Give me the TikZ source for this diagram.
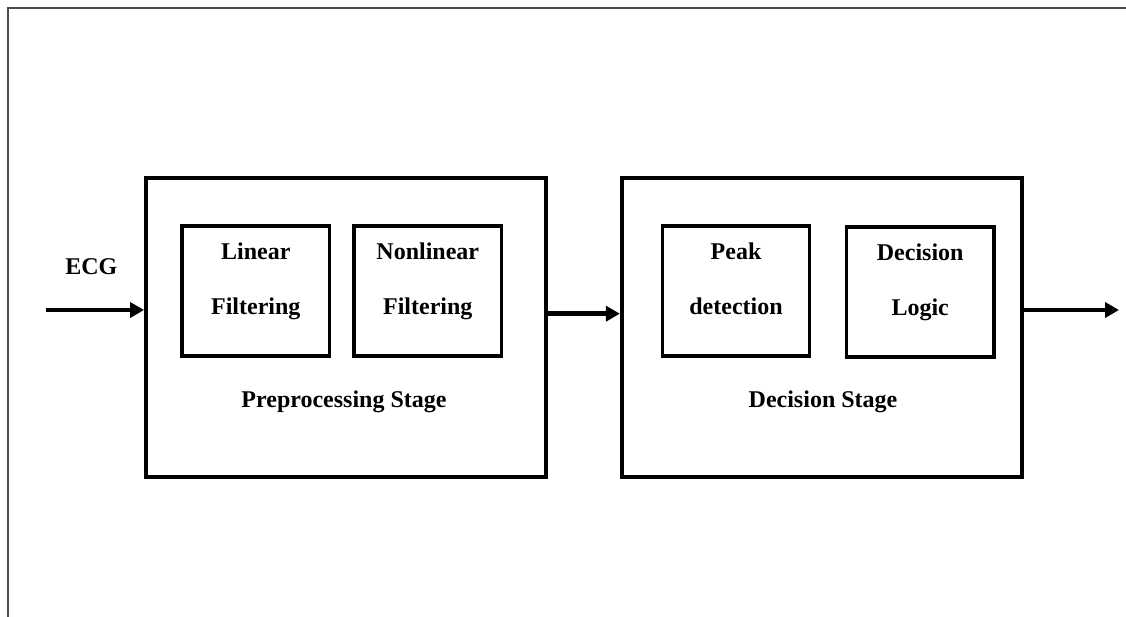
\documentclass[tikz,border=0pt]{standalone}
\usepackage{fontspec}
\setmainfont{Liberation Serif}
\usetikzlibrary{arrows.meta}
\tikzset{
  frame/.style={draw=black!70, line width=2.4pt},
  stage/.style={draw, line width=3.8pt, minimum width=400pt, minimum height=299pt, inner sep=0pt},
  block/.style={draw, line width=3.4pt, minimum width=147.5pt, minimum height=130pt, inner sep=0pt,
    align=center, text height=48pt, text depth=0pt},
  lbl/.style={anchor=base, inner sep=0pt},
  arr/.style={line width=4.4pt, -{Triangle[length=14pt,width=15pt]}}
}
\begin{document}
\begin{tikzpicture}[x=1pt,y=-1pt, font=\fontsize{24}{55}\selectfont\bfseries]
\useasboundingbox (0,0) rectangle (1126,617);
\draw[frame] (7.8,617) -- (7.8,7.8) -- (1126,7.8);
\path node[stage] (pre) at (346,327.7) {}
node[block] (lin) at (255.8,291) {Linear\\Filtering}
node[block] (nonlin) at (427.8,291) {Nonlinear\\Filtering}
node[lbl] (prelbl) at (344,407) {Preprocessing Stage}
node[stage] (dec) at (821.8,327.7) {}
node[block] (peak) at (736,291) {Peak\\detection}
node[block] (logic) at (920.2,292) {Decision\\Logic}
node[lbl] (declbl) at (823,407.3) {Decision Stage}
node[lbl] (ecg) at (91.3,275) {ECG}
coordinate (sig) at (46,310)
coordinate (res) at (1119,310)
;
\draw[arr] (sig) -- (sig -| pre.west);
\draw[arr] ([yshift=14pt]pre.east) -- ([yshift=14pt]dec.west);
\draw[arr] (res -| dec.east) -- (res);
\end{tikzpicture}
\end{document}
